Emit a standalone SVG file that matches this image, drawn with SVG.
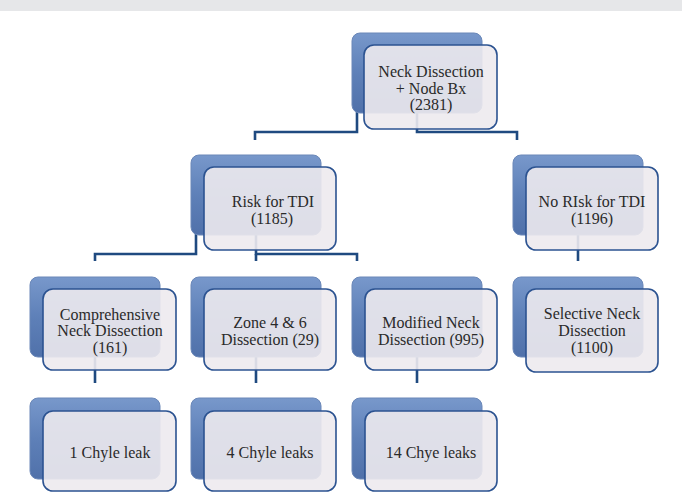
<svg xmlns="http://www.w3.org/2000/svg" width="682" height="493" viewBox="0 0 682 493">
<defs>
<linearGradient id="bg" x1="0" y1="0" x2="0" y2="1">
<stop offset="0" stop-color="#7898cb"/>
<stop offset="0.5" stop-color="#5e80b8"/>
<stop offset="1" stop-color="#5071aa"/>
</linearGradient>
</defs>
<style>
.back{fill:url(#bg);stroke:#6a87b8;stroke-width:1}
.front{fill:#edeaee;fill-opacity:0.9;stroke:#2c5391;stroke-width:1.6}
.t{font-family:"Liberation Serif",serif;font-size:16px;fill:#2a2a2a;text-anchor:middle}
.c{fill:none;stroke:#1f4a80;stroke-width:2.6}
</style>
<rect x="0" y="0" width="682" height="493" fill="#ffffff"/>
<rect x="0" y="0" width="682" height="11" fill="#e6e7e9"/>
<g id="connectors">
<path class="c" d="M357,112 V132 H255 V140"/>
<path class="c" d="M417,112 V132 H517 V140"/>
<path class="c" d="M196,234 V254 H95 V261"/>
<path class="c" d="M256,234 V254 H357 V261"/>
<path class="c" d="M256,254 V261"/>
<path class="c" d="M578,234 V261"/>
<path class="c" d="M95,356 V383"/>
<path class="c" d="M256,356 V383"/>
<path class="c" d="M417,356 V383"/>
</g>
<g id="root">
<rect class="back" x="352" y="33" width="130" height="80" rx="8"/>
<rect class="front" x="364" y="45" width="133" height="84" rx="10"/>
<text class="t" x="431" y="77">Neck Dissection</text>
<text class="t" x="431" y="94">+ Node Bx</text>
<text class="t" x="431" y="110">(2381)</text>
</g>
<g id="risk">
<rect class="back" x="191" y="155" width="130" height="80" rx="8"/>
<rect class="front" x="204" y="167" width="132" height="83" rx="10"/>
<text class="t" x="273" y="207">Risk for TDI</text>
<text class="t" x="272" y="224">(1185)</text>
</g>
<g id="norisk">
<rect class="back" x="513" y="155" width="130" height="80" rx="8"/>
<rect class="front" x="526" y="167" width="132" height="83" rx="10"/>
<text class="t" x="592" y="207">No RIsk for TDI</text>
<text class="t" x="592" y="224">(1196)</text>
</g>
<g id="comprehensive">
<rect class="back" x="30" y="277" width="130" height="80" rx="8"/>
<rect class="front" x="43" y="289" width="133" height="81" rx="10"/>
<text class="t" x="110" y="320">Comprehensive</text>
<text class="t" x="110" y="336">Neck Dissection</text>
<text class="t" x="110" y="353">(161)</text>
</g>
<g id="zone">
<rect class="back" x="191" y="277" width="130" height="80" rx="8"/>
<rect class="front" x="204" y="289" width="132" height="81" rx="10"/>
<text class="t" x="270" y="328">Zone 4 &amp; 6</text>
<text class="t" x="270" y="345">Dissection (29)</text>
</g>
<g id="modified">
<rect class="back" x="352" y="277" width="130" height="80" rx="8"/>
<rect class="front" x="365" y="289" width="132" height="81" rx="10"/>
<text class="t" x="431" y="328">Modified Neck</text>
<text class="t" x="431" y="345">Dissection (995)</text>
</g>
<g id="selective">
<rect class="back" x="513" y="277" width="130" height="80" rx="8"/>
<rect class="front" x="526" y="289" width="132" height="83" rx="10"/>
<text class="t" x="592" y="319">Selective Neck</text>
<text class="t" x="592" y="336">Dissection</text>
<text class="t" x="592" y="353">(1100)</text>
</g>
<g id="leak1">
<rect class="back" x="30" y="398" width="130" height="81" rx="8"/>
<rect class="front" x="43" y="411" width="133" height="80" rx="10"/>
<text class="t" x="110" y="458">1 Chyle leak</text>
</g>
<g id="leak4">
<rect class="back" x="191" y="398" width="130" height="81" rx="8"/>
<rect class="front" x="204" y="411" width="132" height="80" rx="10"/>
<text class="t" x="270" y="458">4 Chyle leaks</text>
</g>
<g id="leak14">
<rect class="back" x="352" y="398" width="130" height="81" rx="8"/>
<rect class="front" x="365" y="411" width="132" height="80" rx="10"/>
<text class="t" x="431" y="458">14 Chye leaks</text>
</g>
</svg>
